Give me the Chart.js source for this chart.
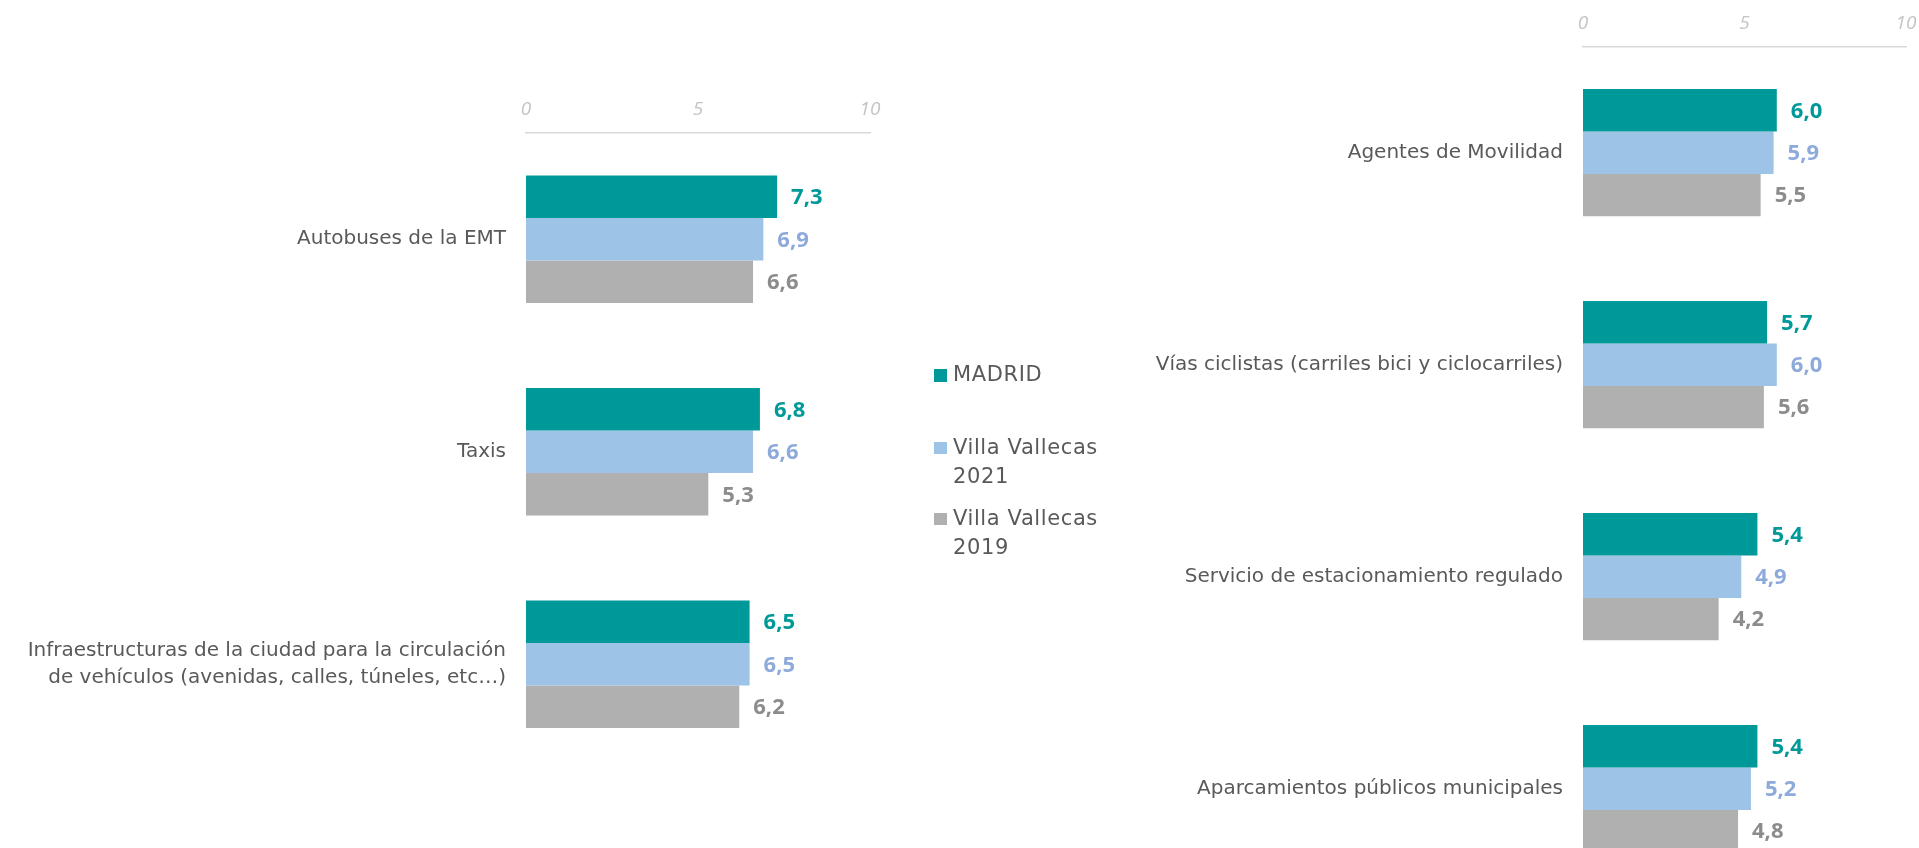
<!DOCTYPE html>
<html>
<head>
<meta charset="utf-8">
<script src="https://cdn.jsdelivr.net/npm/chart.js@4"></script>
<style>
    html, body { margin: 0; padding: 0; background: #fff; overflow: hidden; }
    body { width: 1919px; height: 848px; position: relative; }
    canvas { position: absolute; top: 0; }
    #leftChart { left: 0; }
    #rightChart { left: 1000px; }
    .legend { position: absolute; left: 934px; font-family: "DejaVu Sans", sans-serif; font-size: 21px; letter-spacing: 0.6px; color: #595959; }
    .legend .item { position: absolute; left: 0; width: 175px; line-height: 29px; }
    .legend .box { position: absolute; left: 0; width: 12.5px; height: 12.5px; }
    .legend .txt { position: absolute; left: 19px; width: 155px; }
</style>
</head>
<body>
<canvas id="leftChart" width="900" height="848"></canvas>
<canvas id="rightChart" width="930" height="930"></canvas>
<div class="legend" id="legend"></div>

<script>
// Series
const seriesNames = ['MADRID', 'Villa Vallecas 2021', 'Villa Vallecas 2019'];
const barColors = ['#009999', '#9dc3e6', '#b0b0b0'];
const valueColors = ['#009999', '#8eaadb', '#8c8c8c'];

// Left panel
const leftCategories = [
    'Autobuses de la EMT',
    'Taxis',
    ['Infraestructuras de la ciudad para la circulación', 'de vehículos (avenidas, calles, túneles, etc…)']
];
const leftMadrid = [7.3, 6.8, 6.5];
const leftVV2021 = [6.9, 6.6, 6.5];
const leftVV2019 = [6.6, 5.3, 6.2];

// Right panel
const rightCategories = [
    'Agentes de Movilidad',
    'Vías ciclistas (carriles bici y ciclocarriles)',
    'Servicio de estacionamiento regulado',
    'Aparcamientos públicos municipales'
];
const rightMadrid = [6.0, 5.7, 5.4, 5.4];
const rightVV2021 = [5.9, 6.0, 4.9, 5.2];
const rightVV2019 = [5.5, 5.6, 4.2, 4.8];

const axisTicks = [0, 5, 10];

// value labels at the end of each bar
const valueLabels = {
    id: 'valueLabels',
    afterDatasetsDraw(chart) {
        const ctx = chart.ctx;
        ctx.save();
        ctx.font = 'bold 22px "Open Sans", sans-serif';
        ctx.textAlign = 'left';
        ctx.textBaseline = 'middle';
        chart.data.datasets.forEach((ds, i) => {
            const meta = chart.getDatasetMeta(i);
            ctx.fillStyle = valueColors[i];
            meta.data.forEach((bar, j) => {
                const txt = ds.data[j].toFixed(1).replace('.', ',');
                ctx.fillText(txt, bar.x + 14, bar.y + 1);
            });
        });
        ctx.restore();
    }
};

function makeChart(id, categories, values, axisWidth, axisTop, padding) {
    const ctx = document.getElementById(id).getContext('2d');
    return new Chart(ctx, {
        type: 'bar',
        data: {
            labels: categories,
            datasets: values.map((v, i) => ({
                label: seriesNames[i],
                data: v,
                backgroundColor: barColors[i],
                borderWidth: 0,
                categoryPercentage: 0.6,
                barPercentage: 1.0
            }))
        },
        options: {
            indexAxis: 'y',
            responsive: false,
            animation: false,
            layout: { padding: padding },
            plugins: {
                legend: { display: false },
                tooltip: { enabled: false }
            },
            scales: {
                x: {
                    position: 'top',
                    min: 0,
                    max: 10,
                    afterBuildTicks: scale => { scale.ticks = axisTicks.map(v => ({ value: v })); },
                    afterFit: scale => { scale.height = axisTop; },
                    grid: { display: false, drawTicks: false },
                    border: { display: true, color: '#d9d9d9', width: 1.5 },
                    ticks: {
                        padding: 12,
                        color: '#c4c4c4',
                        font: { family: '"Open Sans", sans-serif', size: 19, style: 'italic' }
                    }
                },
                y: {
                    afterFit: scale => { scale.width = axisWidth; },
                    grid: { display: false, drawTicks: false },
                    border: { display: false },
                    ticks: {
                        padding: 20,
                        color: '#595959',
                        font: { family: '"DejaVu Sans", sans-serif', size: 20, lineHeight: 1.35 }
                    }
                }
            }
        },
        plugins: [valueLabels]
    });
}

makeChart('leftChart', leftCategories, [leftMadrid, leftVV2021, leftVV2019], 526, 133,
    { left: 0, right: 30, top: 0, bottom: 77.5 });
makeChart('rightChart', rightCategories, [rightMadrid, rightVV2021, rightVV2019], 583, 46.7,
    { left: 0, right: 24, top: 0, bottom: 35.3 });

// legend built from the series
const legendTops = [360, 432.5, 503.5];
const legendEl = document.getElementById('legend');
seriesNames.forEach((name, i) => {
    const item = document.createElement('div');
    item.className = 'item';
    item.style.top = legendTops[i] + 'px';
    item.innerHTML = `<span class="box" style="background:${barColors[i]};top:9px"></span><span class="txt">${name}</span>`;
    legendEl.appendChild(item);
});
</script>
</body>
</html>
